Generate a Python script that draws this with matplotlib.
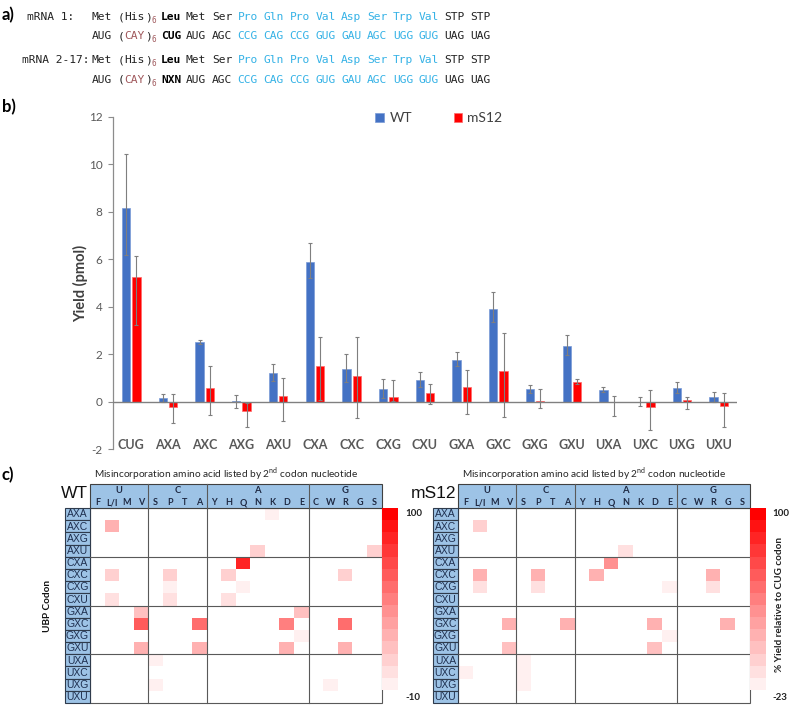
import numpy as np
import matplotlib
matplotlib.use("Agg")
import matplotlib.pyplot as plt
from matplotlib.colors import LinearSegmentedColormap
from matplotlib.patches import Rectangle

plt.rcParams["mathtext.fontset"] = "custom"
plt.rcParams["mathtext.rm"] = "Lato"
plt.rcParams["axes.unicode_minus"] = False

# ---------------- data ----------------
codons = ["CUG", "AXA", "AXC", "AXG", "AXU", "CXA", "CXC", "CXG", "CXU",
          "GXA", "GXC", "GXG", "GXU", "UXA", "UXC", "UXG", "UXU"]
wt_yield = [8.14, 0.16, 2.50, 0.01, 1.19, 5.89, 1.39, 0.55, 0.91,
            1.76, 3.92, 0.52, 2.36, 0.51, 0.00, 0.58, 0.20]
wt_err_lo = [1.96, 0.16, 0.06, 0.29, 0.30, 0.67, 0.55, 0.39, 0.30,
             0.26, 0.58, 0.17, 0.41, 0.11, 0.20, 0.23, 0.20]
wt_err_hi = [2.28, 0.16, 0.11, 0.29, 0.40, 0.80, 0.61, 0.41, 0.33,
             0.32, 0.69, 0.17, 0.43, 0.12, 0.18, 0.24, 0.21]
ms12_yield = [5.24, -0.22, 0.58, -0.41, 0.24, 1.49, 1.08, 0.18, 0.38,
              0.62, 1.29, 0.02, 0.84, 0.00, -0.22, 0.09, -0.18]
ms12_err_lo = [2.01, 0.69, 1.15, 0.66, 1.07, 1.42, 1.78, 0.15, 0.49,
               1.12, 1.93, 0.30, 0.11, 0.61, 0.97, 0.41, 0.87]
ms12_err_hi = [0.89, 0.56, 0.94, 0.34, 0.77, 1.23, 1.64, 0.75, 0.35,
               0.70, 1.59, 0.50, 0.12, 0.23, 0.71, 0.10, 0.53]

ubp_rows = ["AXA", "AXC", "AXG", "AXU", "CXA", "CXC", "CXG", "CXU",
            "GXA", "GXC", "GXG", "GXU", "UXA", "UXC", "UXG", "UXU"]
amino_cols = ["F", "L/I", "M", "V", "S", "P", "T", "A", "Y", "H", "Q", "N",
              "K", "D", "E", "C", "W", "R", "G", "S"]
nuc_groups = ["U", "C", "A", "G"]
group_sizes = [4, 4, 7, 5]

# (row codon, column index, % yield relative to CUG)
wt_cells = [("AXA", 12, -8), ("AXC", 1, 21.7), ("AXU", 11, 5.8), ("AXU", 19, 5.8),
            ("CXA", 10, 82.7),
            ("CXC", 1, 11.8), ("CXC", 5, 11.8), ("CXC", 9, 11.8), ("CXC", 17, 11.8),
            ("CXG", 5, -5), ("CXG", 10, -5),
            ("CXU", 1, 0.9), ("CXU", 5, 0.9), ("CXU", 9, 0.9),
            ("GXA", 3, 17.7), ("GXA", 14, 17.7),
            ("GXC", 3, 58.5), ("GXC", 7, 51.6), ("GXC", 13, 48.2), ("GXC", 17, 51.6),
            ("GXG", 14, -6),
            ("GXU", 3, 25.6), ("GXU", 7, 25.6), ("GXU", 13, 25.6), ("GXU", 17, 25.6),
            ("UXA", 4, -8.5), ("UXG", 4, -5), ("UXG", 16, -5)]
ms12_cells = [("AXC", 1, -3.6), ("AXU", 11, -11.9), ("CXA", 10, 30.1),
              ("CXC", 1, 15.7), ("CXC", 5, 15.7), ("CXC", 9, 15.7), ("CXC", 17, 15.7),
              ("CXG", 1, -14.1), ("CXG", 5, -14.1), ("CXG", 14, -16.4), ("CXG", 17, -14.1),
              ("GXC", 3, 16.9), ("GXC", 7, 16.9), ("GXC", 13, 16.9), ("GXC", 18, 16.9),
              ("GXG", 14, -18.6), ("GXU", 3, 4.7), ("GXU", 13, 4.7),
              ("UXA", 4, -22), ("UXC", 0, -22), ("UXC", 4, -22), ("UXG", 4, -16.4)]
wt_range = (-10, 100)
ms12_range = (-23, 100)

aa_tail = ["Met", "Ser", "Pro", "Gln", "Pro", "Val", "Asp", "Ser", "Trp", "Val", "STP", "STP"]
codon_tail = ["AUG", "AGC", "CCG", "CAG", "CCG", "GUG", "GAU", "AGC", "UGG", "GUG", "UAG", "UAG"]
tail_blue = [False, False] + [True] * 8 + [False, False]

# ---------------- figure ----------------
W, H = 791, 717
fig = plt.figure(figsize=(W / 100, H / 100), dpi=100)


def rect(x0, y0, x1, y1):
    return [x0 / W, 1 - y1 / H, (x1 - x0) / W, (y1 - y0) / H]


def ftext(x, y, s, **kw):
    return fig.text(x / W, 1 - y / H, s, **kw)


# ---------------- panel a ----------------
MONO = "DejaVu Sans Mono"
FS = 8.1
CW = 0.602 * FS * 100 / 72
SKY = "#35B2E6"
CAYC = "#A0585C"
INK = "#222222"
ftext(2, 15, "a)", fontsize=12, fontweight="bold", family="Lato", va="center")


def seq_line(yb, first, inner, inner_col, key, tail, blue_flags):
    kw = dict(family=MONO, fontsize=FS, va="baseline", ha="left")
    ftext(92, yb, first, color=INK, **kw)
    ftext(117.5, yb, "(", color=INK, **kw)
    ftext(117.5 + CW, yb, inner, color=inner_col, **kw)
    ftext(117.5 + 4 * CW, yb, ")", color=INK, **kw)
    ftext(152, yb + 3, "6", family=MONO, fontsize=5.5, va="baseline", ha="left", color=CAYC)
    ftext(161, yb, key, color="black", fontweight="bold", **kw)
    for k, (tok, b) in enumerate(zip(tail, blue_flags)):
        ftext(186 + 25.85 * k, yb, tok, color=SKY if b else INK, **kw)


ftext(27, 20, "mRNA 1:", family=MONO, fontsize=FS, va="baseline", color=INK)
seq_line(20, "Met", "His", INK, "Leu", aa_tail, tail_blue)
seq_line(39.3, "AUG", "CAY", CAYC, "CUG", codon_tail, tail_blue)
ftext(89.5, 63.3, "mRNA 2-17:", family=MONO, fontsize=FS, va="baseline", ha="right", color=INK)
seq_line(63.3, "Met", "His", INK, "Leu", aa_tail, tail_blue)
seq_line(82.7, "AUG", "CAY", CAYC, "NXN", codon_tail, tail_blue)

# ---------------- panel b ----------------
ftext(2, 107, "b)", fontsize=12, fontweight="bold", family="Lato", va="center")
axb = fig.add_axes(rect(113, 116.7, 737, 449.2))
x = np.arange(len(codons))
ekw = dict(ecolor="#7F7F7F", elinewidth=0.8, capsize=1.6, capthick=0.8)
axb.bar(x - 0.14, wt_yield, 0.225, color="#4472C4", edgecolor="#7A9AD6", linewidth=0.5,
        yerr=[wt_err_lo, wt_err_hi], error_kw=ekw, label="WT", zorder=2)
axb.bar(x + 0.14, ms12_yield, 0.225, color="#FF0000", edgecolor="#FF6A6A", linewidth=0.5,
        yerr=[ms12_err_lo, ms12_err_hi], error_kw=ekw, label="mS12", zorder=2)
axb.axhline(0, color="#808080", lw=1.0, zorder=3)
axb.set_xlim(-0.5, len(codons) - 0.5)
axb.set_ylim(-2, 12)
axb.set_yticks(np.arange(-2, 13, 2))
for s in ["top", "right", "bottom"]:
    axb.spines[s].set_visible(False)
axb.spines["left"].set_color("#8C8C8C")
axb.spines["left"].set_linewidth(0.9)
axb.tick_params(axis="y", direction="out", length=3.5, width=0.8, color="#8C8C8C",
                labelcolor="#595959", labelsize=8.5, pad=4)
axb.set_xticks(x)
axb.set_xticklabels(codons, fontweight="bold", color="#595959", fontsize=9.0, family="Lato")
axb.tick_params(axis="x", length=0, pad=-7.5)
for lab in axb.get_yticklabels():
    lab.set_family("Lato")
ftext(81, 283, "Yield (pmol)", rotation=90, fontsize=10.5, fontweight="bold", family="Lato",
      color="#404040", ha="center", va="center")
leg = axb.legend(loc="center", bbox_to_anchor=(439 / W, 1 - 118 / H), bbox_transform=fig.transFigure,
                 ncol=2, frameon=False, handlelength=0.6, handleheight=0.6,
                 handletextpad=0.4, columnspacing=3.0, prop=dict(family="Lato", size=10))
for t in leg.get_texts():
    t.set_color("#404040")

# ---------------- panel c ----------------
ftext(2, 475, "c)", fontsize=12, fontweight="bold", family="Lato", va="center")
cmap = LinearSegmentedColormap.from_list(
    "yieldreds", [(0, "#FFF0F0"), (0.45, "#FF8C8C"), (1, "#FF0000")], N=15)
BOXBLUE = "#9DC3E6"
LINEC = "#595959"


def heat(x0, cells, vrange, name, cb_lab_x):
    rw_px, hh_px = 25.0, 24.0
    gx0 = x0 + rw_px
    gx1 = gx0 + 291.5
    gy0, gy1 = 508.0, 703.0
    cw = (gx1 - gx0) / 20
    rh = (gy1 - gy0) / 16
    rw, hh = rw_px / cw, hh_px / rh
    ax = fig.add_axes(rect(x0, gy0 - hh_px, gx1, gy1))
    ax.set_xlim(-rw, 20)
    ax.set_ylim(16, -hh)
    ax.axis("off")
    data = np.full((16, 20), np.nan)
    for r, c, v in cells:
        data[ubp_rows.index(r), c] = v
    mesh = ax.pcolormesh(np.arange(21), np.arange(17), np.ma.masked_invalid(data),
                         cmap=cmap, vmin=vrange[0], vmax=vrange[1], zorder=1)
    ax.add_patch(Rectangle((0, 0), 20, 16, fill=False, ec=LINEC, lw=0.8, clip_on=False, zorder=3))
    ax.add_patch(Rectangle((0, -hh), 20, hh, fc=BOXBLUE, ec="#404040", lw=0.8, clip_on=False, zorder=3))
    edges = np.cumsum(group_sizes)
    starts = edges - np.array(group_sizes)
    for e in edges[:-1]:
        ax.plot([e, e], [-hh, 16], color=LINEC, lw=0.8, clip_on=False, zorder=4)
    for r in [4, 8, 12]:
        ax.plot([0, 20], [r, r], color=LINEC, lw=0.8, clip_on=False, zorder=4)
    for g, s0, n in zip(nuc_groups, starts, group_sizes):
        ax.text(s0 + n / 2, -hh + 7 / rh, g, ha="center", va="center", fontsize=6.8,
                fontweight="bold", family="Lato", color="#1F2A44", zorder=5)
    for c, a in enumerate(amino_cols):
        ax.text(c + 0.5, -5 / rh, a, ha="center", va="center", fontsize=6.5,
                fontweight="bold", family="Lato", color="#1F2A44", zorder=5)
    for i, lab in enumerate(ubp_rows):
        ax.add_patch(Rectangle((-rw, i), rw, 1, fc=BOXBLUE, ec="#2F3B4C", lw=0.8,
                               clip_on=False, zorder=3))
        ax.text(-rw / 2, i + 0.52, lab, ha="center", va="center", fontsize=7.5,
                family="Liberation Sans", color="#1F3050", zorder=5)
    ftext((gx0 + gx1) / 2 - 10, 474, "Misincorporation amino acid listed by 2$^{\\rm nd}$ codon nucleotide",
          ha="center", va="center", fontsize=7.3, family="Lato", color="#262626")
    ftext(gx0 - 2, 494, name, ha="right", va="center", fontsize=12.5, family="Liberation Sans",
          color="#111111")
    cax = fig.add_axes(rect(gx1, 508, gx1 + 16.5, 690))
    cb = fig.colorbar(mesh, cax=cax)
    cb.set_ticks([])
    cb.outline.set_visible(False)
    ftext(cb_lab_x, 514, "100", fontsize=7, fontweight="bold", family="Lato", va="center",
          color="#222222")
    ftext(cb_lab_x, 697, "%d" % vrange[0], fontsize=7, fontweight="bold", family="Lato",
          va="center", color="#222222")
    return ax


heat(65, wt_cells, wt_range, "WT", 405)
heat(433, ms12_cells, ms12_range, "mS12", 772)
ftext(48, 606, "UBP Codon", rotation=90, fontsize=7.2, fontweight="bold", family="Lato",
      ha="center", va="center", color="#111111")
ftext(779, 605, "% Yield relative to CUG codon", rotation=90, fontsize=7.2, fontweight="bold",
      family="Lato", ha="center", va="center", color="#222222")

fig.savefig("out.png", dpi=100)
